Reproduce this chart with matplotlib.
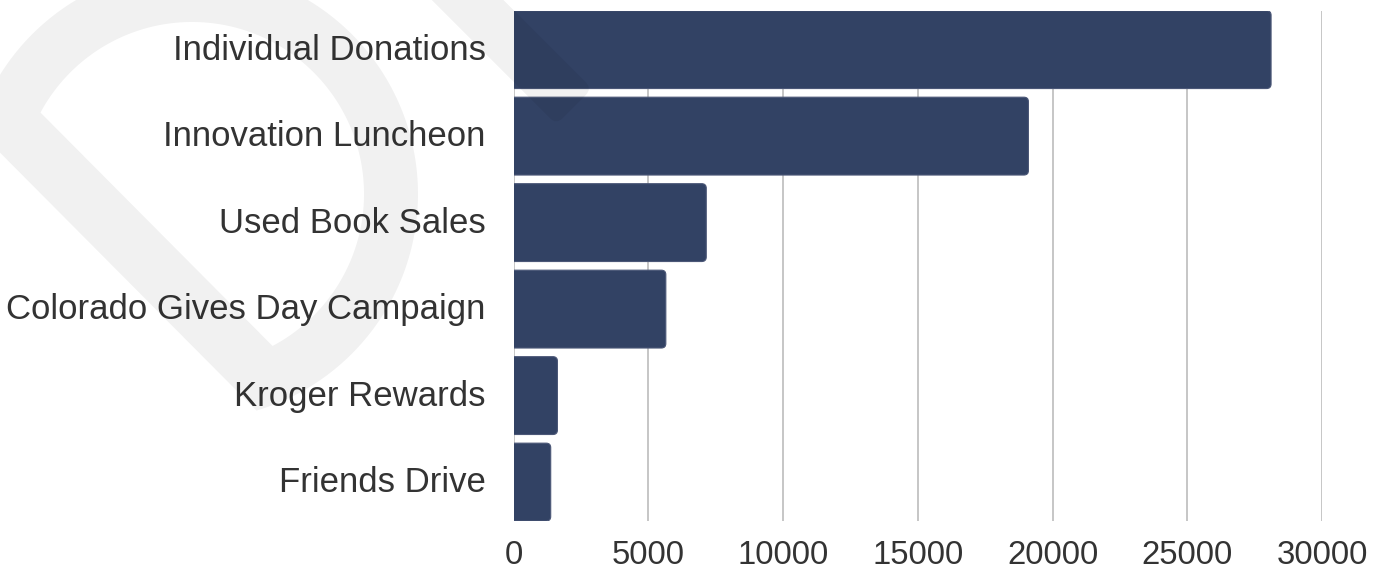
import numpy as np
import matplotlib
matplotlib.use("Agg")
import matplotlib.pyplot as plt
from matplotlib.patches import FancyBboxPatch, PathPatch
from matplotlib.path import Path
from matplotlib.transforms import Affine2D, ScaledTranslation

# fundraising sources and amounts ($)
sources = ["Individual Donations", "Innovation Luncheon", "Used Book Sales",
           "Colorado Gives Day Campaign", "Kroger Rewards", "Friends Drive"]
amounts = [28100, 19100, 7150, 5650, 1630, 1380]
xticks = [0, 5000, 10000, 15000, 20000, 25000, 30000]

W, H = 1383, 569
bar_color = "#324264"
text_color = "#333333"

plt.rcParams["font.family"] = ["Liberation Sans", "DejaVu Sans"]

fig = plt.figure(figsize=(W / 100, H / 100), dpi=100)
ax = fig.add_axes([513.5 / W, 1 - 521 / H, (1322.3 - 513.5) / W, (521 - 10.7) / H])

bar_h = 0.9
ax.set_xlim(0, 30000)
ax.set_ylim(len(sources) - 1 + bar_h / 2, -bar_h / 2)

# bars with rounded right ends (left end pushed past the axis and clipped)
px_x = 30000 / ax.get_position().width / W
px_y = (len(sources) - 1 + bar_h) / ax.get_position().height / H
r = 4.5 * px_x
for i, v in enumerate(amounts):
    p = FancyBboxPatch((-3 * r, i - bar_h / 2), v + 3 * r, bar_h,
                       boxstyle=f"round,pad=0,rounding_size={r}",
                       mutation_aspect=px_y / px_x,
                       facecolor=bar_color, edgecolor="#4b5777", linewidth=0.8,
                       zorder=3)
    ax.add_patch(p)

ax.set_xticks(xticks)
ax.set_yticks(range(len(sources)), sources)
ax.grid(axis="x", color="#c6c6c6", linewidth=1.4, zorder=0)
ax.set_axisbelow(True)
for s in ax.spines.values():
    s.set_visible(False)
ax.tick_params(axis="both", length=0, colors=text_color)
ax.tick_params(axis="y", pad=20, labelsize=25)
ax.tick_params(axis="x", pad=14, labelsize=23.7)

# nudge category labels up a little
lift = ScaledTranslation(0, 3 / 100, fig.dpi_scale_trans)
for lbl in ax.get_yticklabels():
    lbl.set_transform(lbl.get_transform() + lift)

# faint logo watermark, drawn in pixel coordinates (y pointing down)
to_fig = Affine2D().scale(1 / W, -1 / H).translate(0, 1) + fig.transFigure
cx, cy = 192, 194
n = np.array([-0.709, 0.705]) / np.hypot(0.709, 0.705)
n_ang = np.arctan2(n[1], n[0])


def cut_circle(rad, dist, steps=200):
    a = np.arccos(dist / rad)
    th = np.linspace(n_ang + a, n_ang + 2 * np.pi - a, steps)
    pts = np.column_stack([cx + rad * np.cos(th), cy + rad * np.sin(th)])
    return np.vstack([pts, pts[:1]])


outer = cut_circle(226, 107)
inner = cut_circle(172, 50)[::-1]
codes = ([Path.MOVETO] + [Path.LINETO] * (len(outer) - 2) + [Path.CLOSEPOLY]) * 2
ring = Path(np.vstack([outer, inner]), codes)
fig.add_artist(PathPatch(ring, facecolor="black", edgecolor="none",
                         alpha=0.055, transform=to_fig, zorder=10))

stroke = FancyBboxPatch((-300, -25.35), 300, 50.7,
                        boxstyle="round,pad=0,rounding_size=9",
                        facecolor="black", edgecolor="none", alpha=0.055,
                        transform=Affine2D().rotate_deg(45).translate(574.2, 106.6) + to_fig,
                        zorder=10)
fig.add_artist(stroke)

fig.savefig("out.png", dpi=100)
